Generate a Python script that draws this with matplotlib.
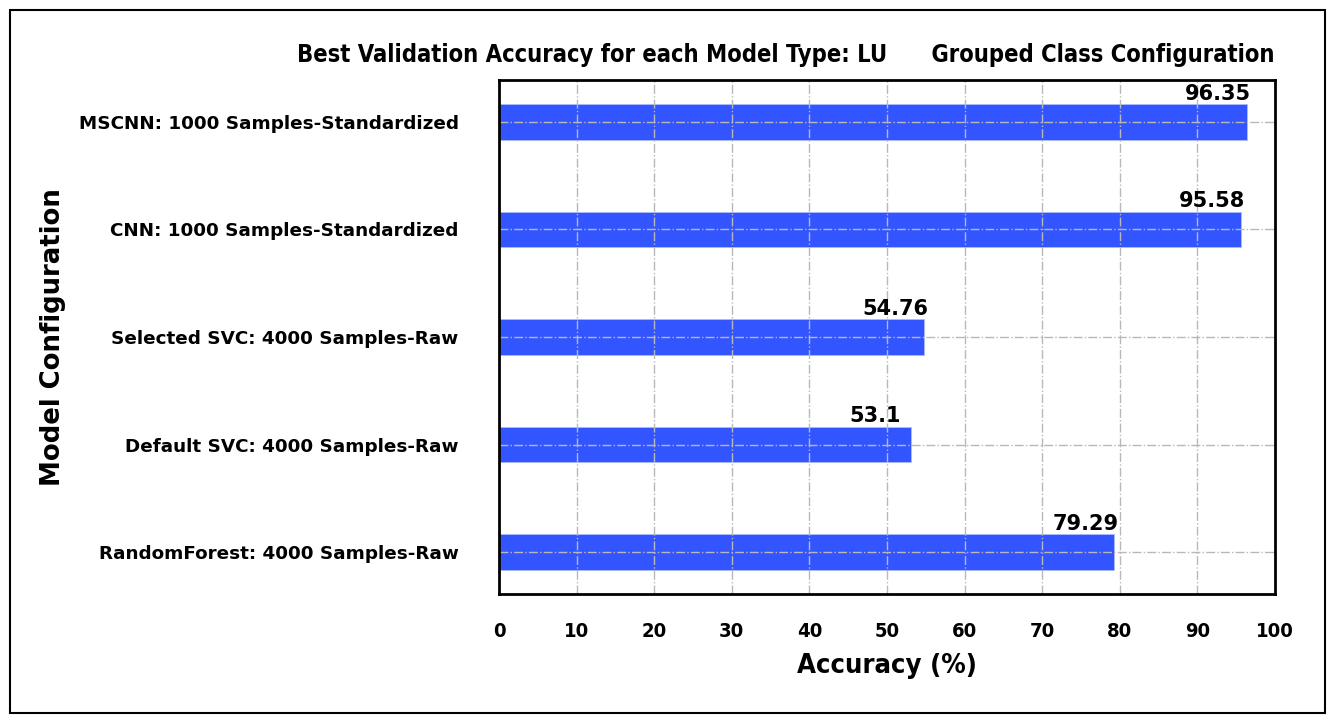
import matplotlib
matplotlib.use("Agg")
import matplotlib.pyplot as plt
from matplotlib.patches import Rectangle

models = [
    "RandomForest: 4000 Samples-Raw",
    "Default SVC: 4000 Samples-Raw",
    "Selected SVC: 4000 Samples-Raw",
    "CNN: 1000 Samples-Standardized",
    "MSCNN: 1000 Samples-Standardized",
]
accuracy = [79.29, 53.1, 54.76, 95.58, 96.35]
value_labels = ["79.29", "53.1", "54.76", "95.58", "96.35"]
x_ticks = [0, 10, 20, 30, 40, 50, 60, 70, 80, 90, 100]

plt.rcParams['font.family'] = ['DejaVu Sans']

fig = plt.figure(figsize=(13.36, 7.23), dpi=100)
ax = fig.add_axes([0.3735, 0.1784, 0.5808, 0.7109])

pos = list(range(len(models)))
ax.barh(pos, accuracy, height=0.33, color='#3355ff', edgecolor='#aabbff',
        linewidth=0.6, zorder=1)
for p, v, lab in zip(pos, accuracy, value_labels):
    ax.text(v - 7.9, p + 0.165 + 0.005, lab, ha='left', va='bottom',
            fontsize=15, fontweight='bold', zorder=3)

ax.set_xlim(0, 100)
ax.set_ylim(-0.39, 4.39)
ax.set_xticks(x_ticks)
ax.set_yticks(pos)
ax.set_yticklabels(models, fontsize=13.2, fontweight='bold')
ax.set_xticklabels([str(t) for t in x_ticks], fontsize=14.5, fontweight='bold',
                   fontstretch='condensed')
ax.tick_params(axis='y', length=0, pad=29)
ax.tick_params(axis='x', length=0, pad=20)
ax.grid(True, color='#b8b8b8', linestyle='-.', linewidth=1, zorder=2)
ax.set_axisbelow(False)
for s in ax.spines.values():
    s.set_linewidth(2)
    s.set_zorder(4)

ax.set_xlabel("Accuracy (%)", fontsize=19.6, fontweight='bold', labelpad=9,
              fontstretch='condensed')
ax.set_ylabel("Model Configuration", fontsize=18.7, fontweight='bold', labelpad=9)
ax.set_title("Best Validation Accuracy for each Model Type: LU      Grouped Class Configuration",
             fontsize=17.0, fontweight='bold', loc='right', pad=13,
             fontstretch='condensed')

fig.patches.append(Rectangle((10/1336, 10/723), 1315/1336, 703/723,
                             transform=fig.transFigure, fill=False,
                             edgecolor='black', linewidth=1.5))

fig.savefig("out.png", dpi=100)
